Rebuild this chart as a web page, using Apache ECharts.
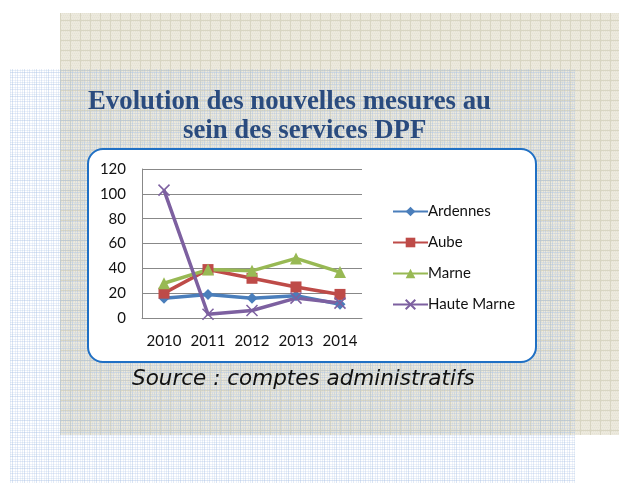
<!DOCTYPE html>
<html>
<head>
<meta charset="utf-8">
<script src="https://cdn.jsdelivr.net/npm/echarts@6/dist/echarts.min.js"></script>
<style>
  html, body { margin: 0; padding: 0; background: #ffffff; }
  #chart { width: 619px; height: 483px; }
</style>
</head>
<body>
<div id="chart"></div>
<script>
// Nouvelles mesures par département, 2010-2014
const years = ['2010', '2011', '2012', '2013', '2014'];
const ardennes = [16, 19, 16, 18, 11];
const aube = [20, 39, 32, 25, 19];
const marne = [28, 39, 38, 48, 37];
const hauteMarne = [103, 3, 6, 16, 12];
const yTicks = { min: 0, max: 120, interval: 20 };

// Tiled paper textures for the background panels
function beigeTile() {
  const c = document.createElement('canvas');
  c.width = 10; c.height = 10;
  const g = c.getContext('2d');
  g.fillStyle = '#ECE9DD';
  g.fillRect(0, 0, 10, 10);
  g.fillStyle = '#E5E2D4';
  for (let y = 1; y < 10; y += 2) for (let x = (y % 4 === 1 ? 1 : 2); x < 10; x += 2) g.fillRect(x, y, 1, 1);
  g.fillStyle = '#D8D5C2';
  g.fillRect(0, 0, 10, 1);
  g.fillRect(0, 0, 1, 10);
  return c;
}
function blueTile() {
  const c = document.createElement('canvas');
  c.width = 12; c.height = 12;
  const g = c.getContext('2d');
  const lines = [[0, 0.4], [3, 0.2], [5, 0.3], [8, 0.18], [10, 0.25]];
  lines.forEach(([p, a]) => {
    g.fillStyle = 'rgba(165,190,228,' + a + ')';
    g.fillRect(p, 0, 1, 12);
    g.fillRect(0, p, 12, 1);
  });
  return c;
}

const chart = echarts.init(document.getElementById('chart'), null, { renderer: 'canvas' });

const colors = ['#4A7EBB', '#BE4B48', '#98B954', '#7D60A0'];

chart.setOption({
  animation: false,
  color: colors,
  graphic: [
    { type: 'rect', z: -30, silent: true, shape: { x: 60, y: 13, width: 559, height: 422 },
      style: { fill: { image: beigeTile(), repeat: 'repeat' } } },
    { type: 'rect', z: -29, silent: true, shape: { x: 10, y: 69, width: 565, height: 414 },
      style: { fill: { image: blueTile(), repeat: 'repeat' } } },
    { type: 'rect', z: -28, silent: true, shape: { x: 88, y: 149, width: 448, height: 213, r: 15 },
      style: { fill: '#ffffff', stroke: '#2070C4', lineWidth: 2 } },
    { type: 'text', z: 10, left: 88, top: 89,
      style: { text: 'Evolution des nouvelles mesures au', fill: '#2A4B7E',
        font: 'bold 26.8px "Liberation Serif", serif' } },
    { type: 'text', z: 10, left: 183, top: 118,
      style: { text: 'sein des services DPF', fill: '#2A4B7E',
        font: 'bold 26.8px "Liberation Serif", serif' } },
    { type: 'text', z: 10, left: 132, top: 368,
      style: { text: 'Source : comptes administratifs', fill: '#111111',
        font: 'italic 21.5px "DejaVu Sans", sans-serif' } }
  ],
  grid: { left: 142, top: 169, width: 220, height: 149, containLabel: false },
  legend: {
    orient: 'vertical', left: 387, top: 199, itemGap: 16,
    itemWidth: 35, itemHeight: 12,
    textStyle: { fontFamily: 'Lato', fontSize: 15, color: '#111', padding: [0, 0, 0, -5] },
    data: ['Ardennes', 'Aube', 'Marne', 'Haute Marne']
  },
  xAxis: {
    type: 'category', data: years, boundaryGap: true,
    axisLine: { lineStyle: { color: '#888', width: 1 } },
    axisTick: { show: false },
    axisLabel: { color: '#111', fontFamily: 'Lato', fontSize: 15, margin: 16, interval: 0 }
  },
  yAxis: {
    type: 'value', min: yTicks.min, max: yTicks.max, interval: yTicks.interval,
    axisLine: { show: true, lineStyle: { color: '#888', width: 1 } },
    axisTick: { show: false },
    axisLabel: { color: '#111', fontFamily: 'Lato', fontSize: 15, margin: 16 },
    splitLine: { lineStyle: { color: '#888', width: 1 } }
  },
  series: [
    { name: 'Ardennes', type: 'line', data: ardennes, symbol: 'diamond', symbolSize: 11,
      lineStyle: { width: 3.5 } },
    { name: 'Aube', type: 'line', data: aube, symbol: 'rect', symbolSize: 11,
      lineStyle: { width: 3.5 } },
    { name: 'Marne', type: 'line', data: marne, symbol: 'triangle', symbolSize: 12,
      lineStyle: { width: 3.5 } },
    { name: 'Haute Marne', type: 'line', data: hauteMarne,
      symbol: 'path://M0,0L10,10M10,0L0,10', symbolSize: 11,
      itemStyle: { color: 'none', borderColor: colors[3], borderWidth: 1.5 },
      lineStyle: { width: 3.5, color: colors[3] } }
  ]
});
</script>
</body>
</html>
